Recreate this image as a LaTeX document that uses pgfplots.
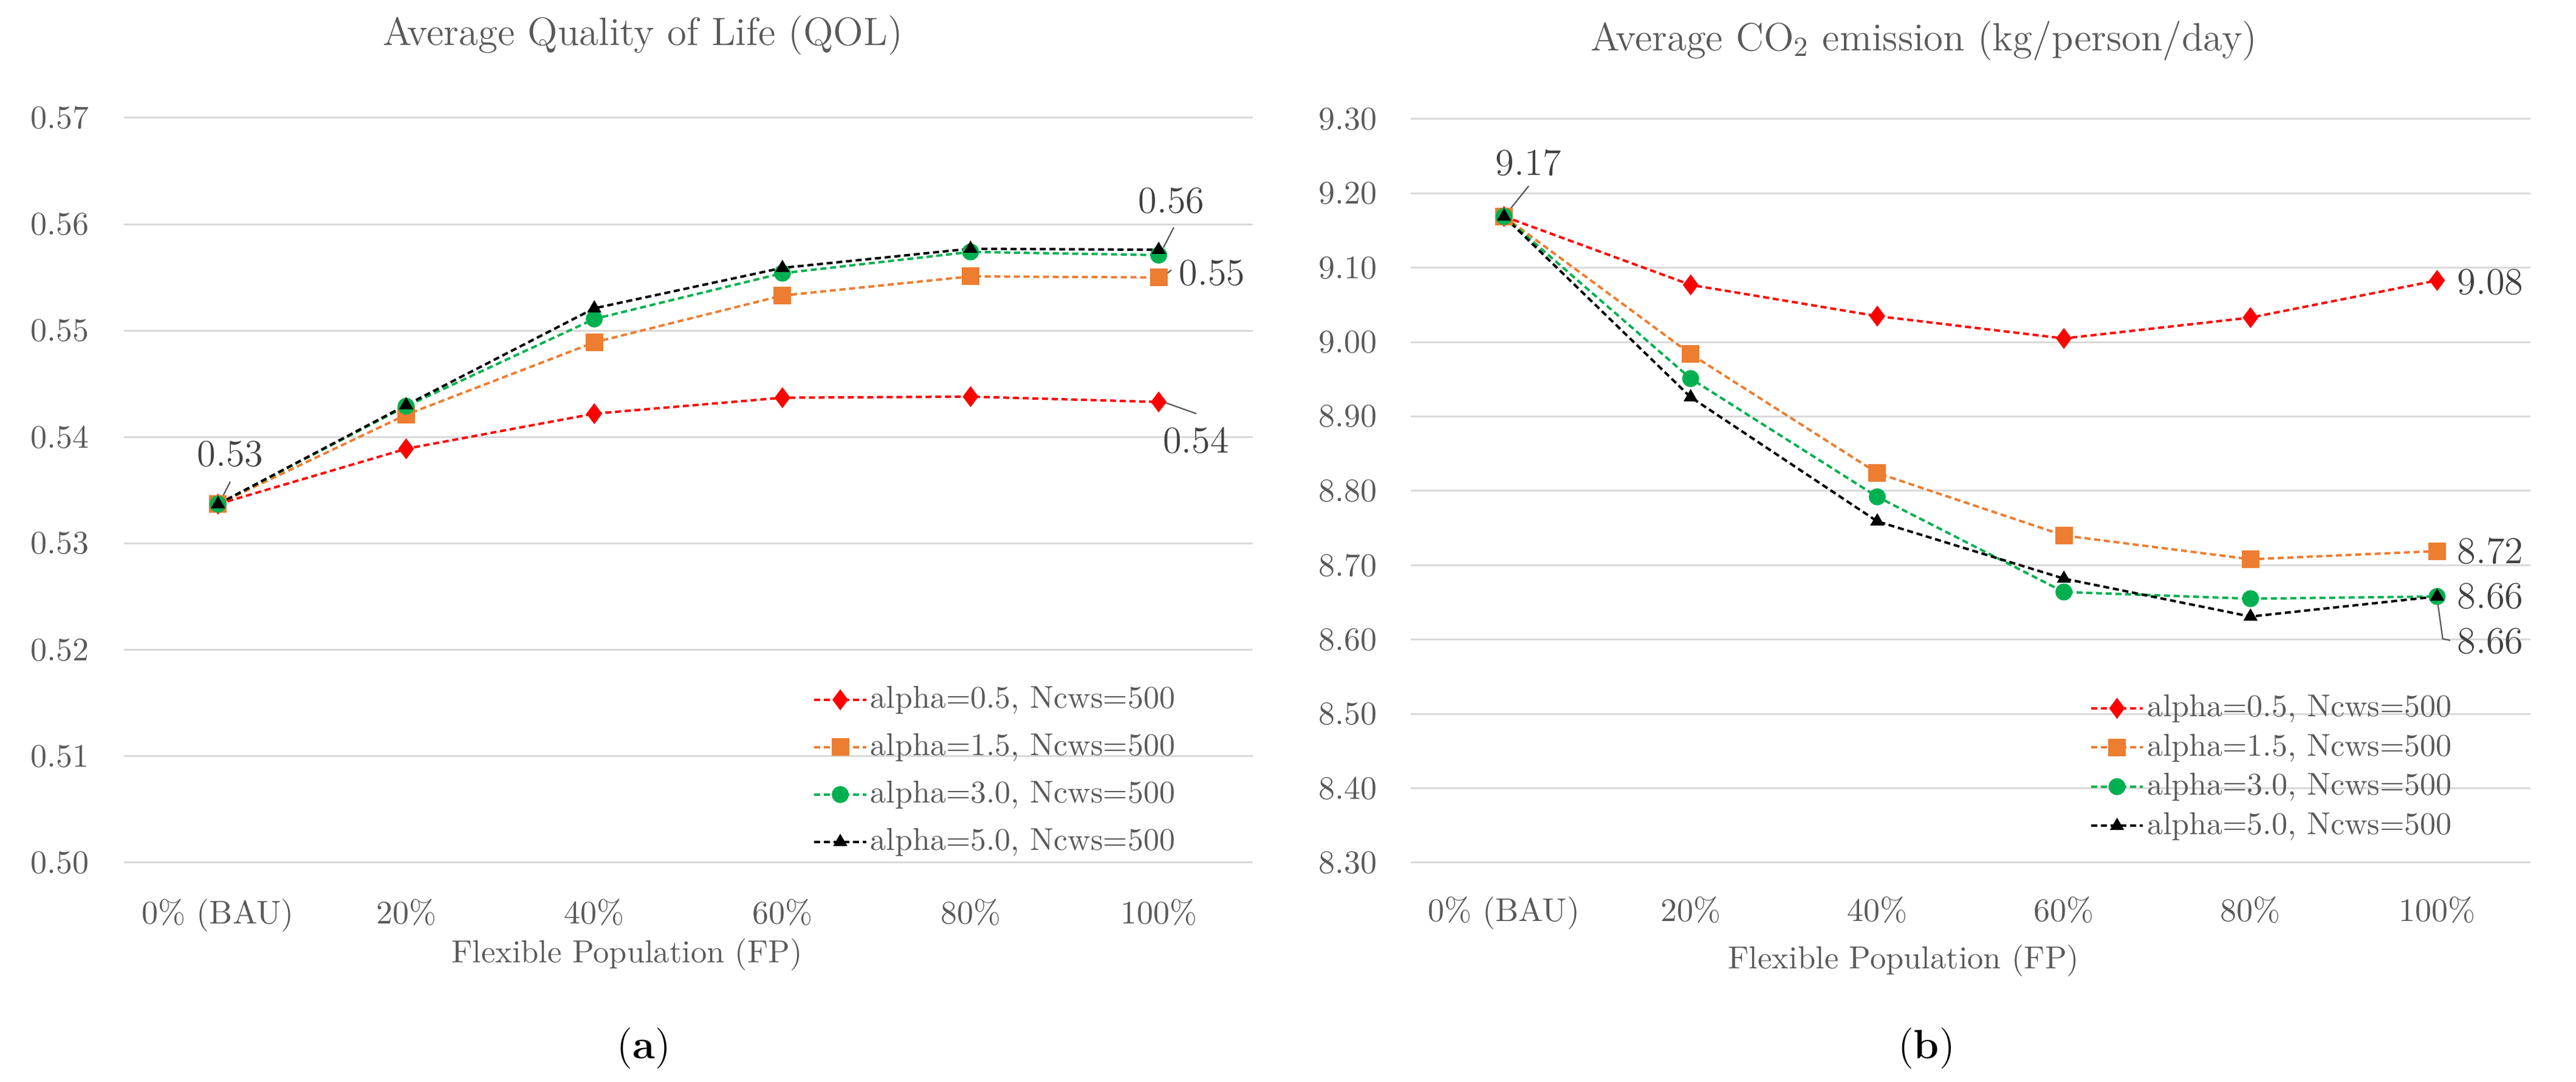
\documentclass[border=0pt]{standalone}
\usepackage{pgfplots}
\pgfplotsset{compat=1.18}
\definecolor{cred}{HTML}{FF0000}
\definecolor{corange}{HTML}{ED7D31}
\definecolor{cgreen}{HTML}{00B050}
\definecolor{cgrid}{HTML}{D9D9D9}
\definecolor{ctext}{HTML}{595959}
\definecolor{clabel}{HTML}{404040}
\tikzset{
  dlab/.style={font=\fontsize{12.5}{15}\selectfont, text=clabel},
  lead/.style={draw=ctext, line width=0.45pt},
}
\pgfplotsset{
  mystyle/.style={
    scale only axis, clip=false,
    xmin=-0.5, xmax=5.5,
    xtick={0,1,2,3,4,5},
    xticklabels={0\% (BAU),20\%,40\%,60\%,80\%,100\%},
    axis line style={draw=none},
    major tick length=0pt,
    ymajorgrids, grid style={cgrid, line width=0.6pt},
    tick label style={font=\fontsize{10.8}{13}\selectfont, text=ctext},
    /pgf/number format/assume math mode=true,
    yticklabel style={/pgf/number format/fixed, /pgf/number format/fixed zerofill, /pgf/number format/precision=2},
    xticklabel style={anchor=base, yshift=-20pt},
    legend cell align=left,
  },
  sA/.style={cred, line width=0.8pt, dash pattern=on 2pt off 1.2pt, mark=diamond*, mark size=2.8pt, mark options={solid, fill=cred}},
  sB/.style={corange, line width=0.8pt, dash pattern=on 2pt off 1.2pt, mark=square*, mark size=2.5pt, mark options={solid, fill=corange}},
  sC/.style={cgreen, line width=0.8pt, dash pattern=on 2pt off 1.2pt, mark=*, mark size=2.4pt, mark options={solid, fill=cgreen}},
  sD/.style={black, line width=0.8pt, dash pattern=on 2pt off 1.2pt, mark=triangle*, mark size=1.9pt, mark options={solid, fill=black}},
}
\begin{document}
\begin{tikzpicture}
\path[use as bounding box] (0,0) rectangle (848pt,356pt);
% ---------- (a) ----------
\begin{axis}[mystyle,
  at={(40.8pt,72pt)}, anchor=south west,
  width=371.6pt, height=245.2pt,
  ymin=0.50, ymax=0.57,
  ytick={0.50,0.51,0.52,0.53,0.54,0.55,0.56,0.57},
  yticklabel style={anchor=east, xshift=-8pt},
  legend style={at={(0.61,0.245)}, anchor=north west, draw=none, fill=none, inner sep=0pt,
    row sep=3.1pt, nodes={inner sep=1pt, text height=8pt, text depth=2.5pt},
    font=\fontsize{10.4}{12}\selectfont, text=ctext},
]
\addplot[sA] coordinates {(0,0.5337) (1,0.5389) (2,0.5422) (3,0.5437) (4,0.5438) (5,0.5433)};
\addlegendentry{alpha=0.5, Ncws=500}
\addplot[sB] coordinates {(0,0.5337) (1,0.5421) (2,0.5489) (3,0.5533) (4,0.5551) (5,0.5550)};
\addlegendentry{alpha=1.5, Ncws=500}
\addplot[sC] coordinates {(0,0.5337) (1,0.5429) (2,0.5511) (3,0.5554) (4,0.5574) (5,0.5571)};
\addlegendentry{alpha=3.0, Ncws=500}
\addplot[sD] coordinates {(0,0.5337) (1,0.5430) (2,0.5521) (3,0.5559) (4,0.5577) (5,0.5576)};
\addlegendentry{alpha=5.0, Ncws=500}
\draw[lead] (axis cs:0.01,0.5339) -- (axis cs:0.065,0.5358);
\node[dlab] at (axis cs:0.065,0.5384) {0.53};
\draw[lead] (axis cs:5.08,0.5597) -- (axis cs:5.025,0.5578);
\node[dlab] at (axis cs:5.067,0.5622) {0.56};
\draw[lead] (axis cs:5.067,0.5557) -- (axis cs:5.025,0.5551);
\node[dlab] at (axis cs:5.284,0.5554) {0.55};
\draw[lead] (axis cs:5.025,0.5433) -- (axis cs:5.2,0.5422);
\node[dlab] at (axis cs:5.199,0.5397) {0.54};
\end{axis}
% ---------- (b) ----------
\begin{axis}[mystyle,
  at={(464.4pt,72pt)}, anchor=south west,
  width=368.6pt, height=244.8pt,
  ymin=8.30, ymax=9.30,
  ytick={8.3,8.4,8.5,8.6,8.7,8.8,8.9,9.0,9.1,9.2,9.3},
  yticklabel style={anchor=east, xshift=-7.5pt},
  xticklabel style={yshift=0.8pt},
  legend style={at={(0.606,0.234)}, anchor=north west, draw=none, fill=none, inner sep=0pt,
    row sep=0.4pt, nodes={inner sep=1pt, text height=8pt, text depth=2.5pt},
    font=\fontsize{10.4}{12}\selectfont, text=ctext},
]
\addplot[sA] coordinates {(0,9.169) (1,9.077) (2,9.035) (3,9.005) (4,9.033) (5,9.083)};
\addlegendentry{alpha=0.5, Ncws=500}
\addplot[sB] coordinates {(0,9.169) (1,8.984) (2,8.824) (3,8.740) (4,8.708) (5,8.719)};
\addlegendentry{alpha=1.5, Ncws=500}
\addplot[sC] coordinates {(0,9.169) (1,8.951) (2,8.792) (3,8.664) (4,8.655) (5,8.658)};
\addlegendentry{alpha=3.0, Ncws=500}
\addplot[sD] coordinates {(0,9.169) (1,8.926) (2,8.759) (3,8.682) (4,8.631) (5,8.658)};
\addlegendentry{alpha=5.0, Ncws=500}
\draw[lead] (axis cs:0.132,9.210) -- (axis cs:0.011,9.172);
\node[dlab] at (axis cs:0.132,9.241) {9.17};
\node[dlab] at (axis cs:5.285,9.081) {9.08};
\node[dlab] at (axis cs:5.285,8.719) {8.72};
\node[dlab] at (axis cs:5.285,8.658) {8.66};
\draw[lead] (axis cs:5.0,8.655) -- (axis cs:5.03,8.601) -- (axis cs:5.07,8.599);
\node[dlab] at (axis cs:5.285,8.598) {8.66};
\end{axis}
% ---------- titles, axis labels, captions ----------
\node[font=\fontsize{13}{16}\selectfont, text=ctext] at (211.6pt,344.4pt) {Average Quality of Life (QOL)};
\node[font=\fontsize{13}{16}\selectfont, text=ctext] at (633.4pt,342.6pt) {Average CO\textsubscript{2} emission (kg/person/day)};
\node[font=\fontsize{10.5}{13}\selectfont, text=ctext] at (206.4pt,41.8pt) {Flexible Population (FP)};
\node[font=\fontsize{10.5}{13}\selectfont, text=ctext] at (626.7pt,39.8pt) {Flexible Population (FP)};
\node[font=\fontsize{13.5}{16}\selectfont] at (212pt,10.8pt) {(\textbf{a})};
\node[font=\fontsize{13.5}{16}\selectfont] at (634.2pt,10.8pt) {(\textbf{b})};
\end{tikzpicture}
\end{document}
